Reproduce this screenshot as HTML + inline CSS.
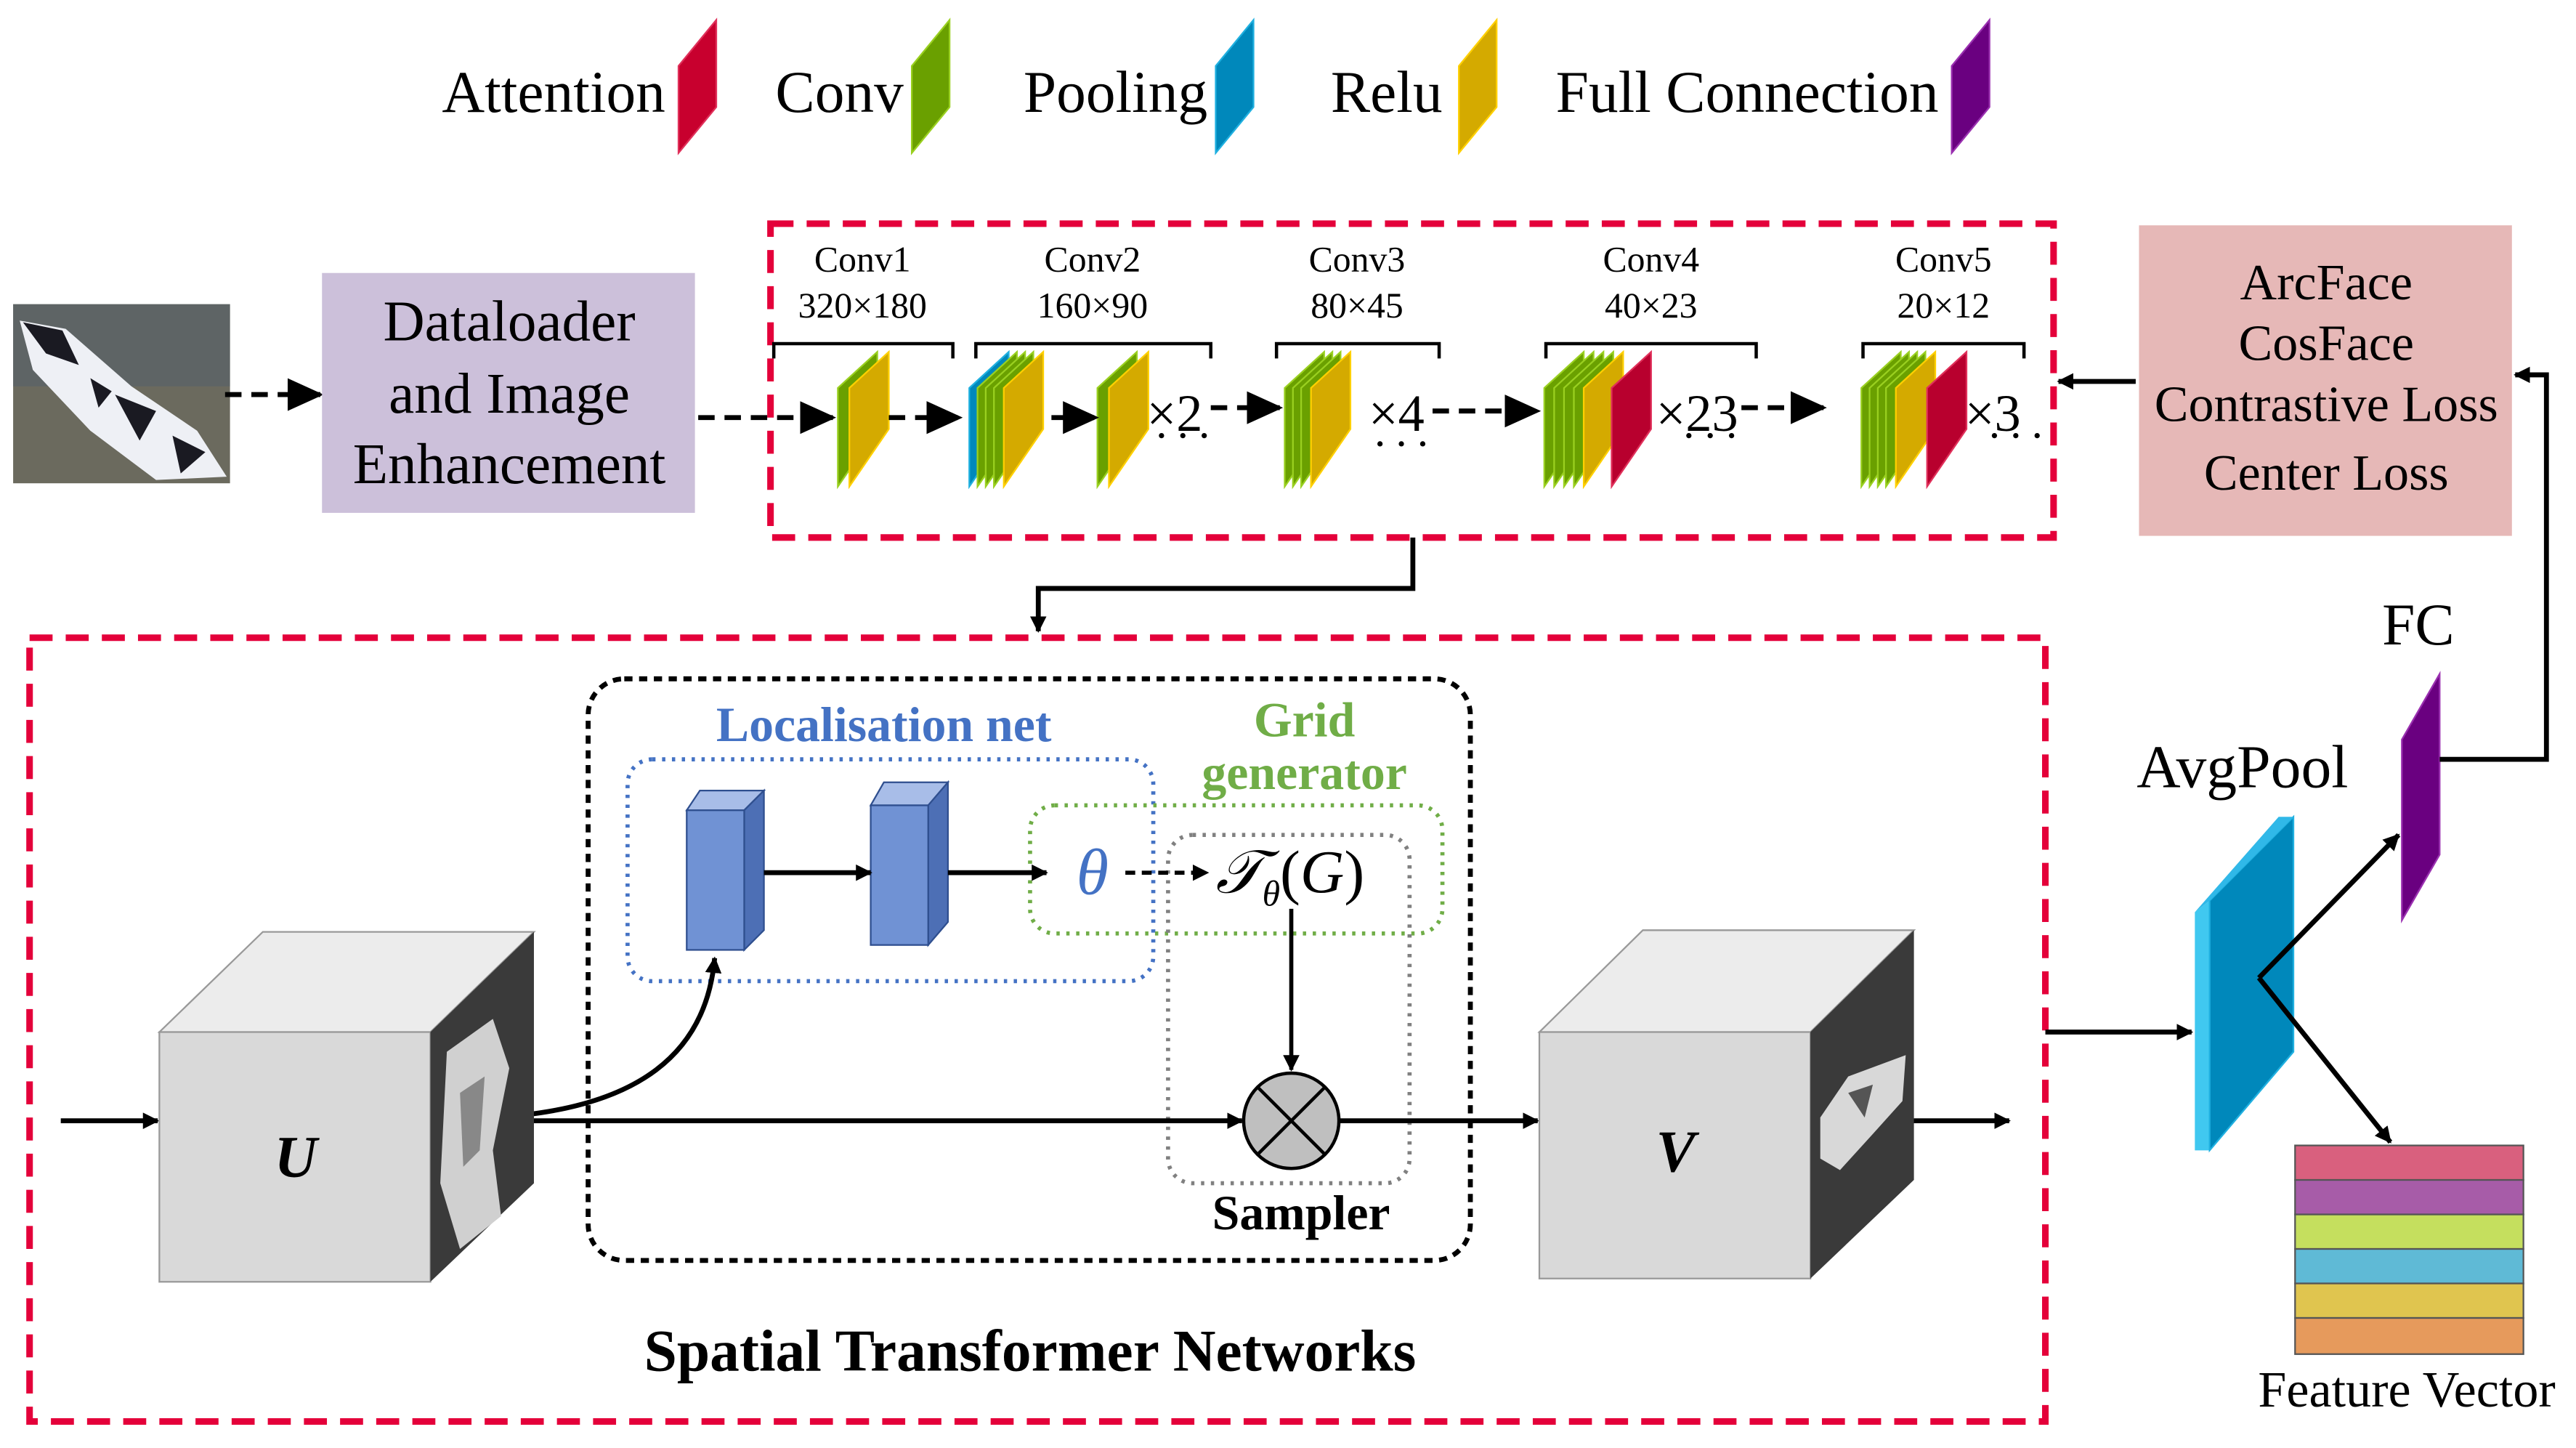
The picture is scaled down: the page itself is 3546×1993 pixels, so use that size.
<!DOCTYPE html>
<html><head><meta charset="utf-8"><style>
html,body{margin:0;padding:0;background:#fff;width:3546px;height:1993px;overflow:hidden}
svg{display:block}
text{font-family:"Liberation Serif",serif}
</style></head><body>
<svg width="3546" height="1993" viewBox="0 0 1568 881" xmlns="http://www.w3.org/2000/svg">
<defs>
<polygon id="sl" points="0,0 0,60 24,25 24,-22"/>
<polygon id="lg" points="0,28 0,81 23,53 23,0"/>
<marker id="ah" markerWidth="10" markerHeight="10" refX="9" refY="5" orient="auto" markerUnits="userSpaceOnUse"><path d="M0,0 L10,5 L0,10 z" fill="#000"/></marker>
<marker id="ab" markerWidth="22" markerHeight="20" refX="20" refY="10" orient="auto" markerUnits="userSpaceOnUse"><path d="M0,0 L22,10 L0,20 z" fill="#000"/></marker>
</defs>

<!-- legend -->
<g font-size="36" text-anchor="end">
<text x="405" y="68">Attention</text>
<text x="550" y="68">Conv</text>
<text x="735" y="68">Pooling</text>
<text x="878" y="68">Relu</text>
<text x="1180" y="68">Full Connection</text>
</g>
<use href="#lg" x="413" y="12" fill="#c8002e" stroke="#e0305a"/>
<use href="#lg" x="555" y="12" fill="#6aa000" stroke="#9ad020"/>
<use href="#lg" x="740" y="12" fill="#0088bb" stroke="#20b0e0"/>
<use href="#lg" x="888" y="12" fill="#d4aa00" stroke="#ffd000"/>
<use href="#lg" x="1188" y="12" fill="#6a0080" stroke="#9a30b0"/>

<!-- input image -->
<rect x="8" y="185" width="132" height="109" fill="#6b6a5e"/>
<rect x="8" y="185" width="132" height="50" fill="#55606a" opacity="0.6"/>
<path d="M12,195 L40,200 L80,235 L120,262 L138,290 L95,292 L55,262 L20,225 Z" fill="#eef0f5"/>
<path d="M14,196 L38,201 L48,222 L28,215 Z M70,240 L95,250 L85,268 Z M105,265 L125,275 L110,288 Z M55,230 L68,238 L60,248 Z" fill="#1a1a22"/>
<line x1="137" y1="240" x2="195" y2="240" stroke="#000" stroke-width="3" stroke-dasharray="10,6" marker-end="url(#ab)"/>

<!-- dataloader -->
<rect x="196" y="166" width="227" height="146" fill="#ccc0da"/>
<g font-size="35" text-anchor="middle">
<text x="310" y="207">Dataloader</text>
<text x="310" y="251">and Image</text>
<text x="310" y="294">Enhancement</text>
</g>

<!-- top red box -->
<rect x="469" y="136" width="781" height="191" fill="none" stroke="#e4003a" stroke-width="4" stroke-dasharray="14,8"/>
<g font-size="22" text-anchor="middle">
<text x="525" y="165">Conv1</text><text x="525" y="193">320×180</text>
<text x="665" y="165">Conv2</text><text x="665" y="193">160×90</text>
<text x="826" y="165">Conv3</text><text x="826" y="193">80×45</text>
<text x="1005" y="165">Conv4</text><text x="1005" y="193">40×23</text>
<text x="1183" y="165">Conv5</text><text x="1183" y="193">20×12</text>
</g>
<g stroke="#000" stroke-width="2" fill="none">
<path d="M471,218 V209 H580 V218"/>
<path d="M594,218 V209 H737 V218"/>
<path d="M777,218 V209 H876 V218"/>
<path d="M941,218 V209 H1069 V218"/>
<path d="M1134,218 V209 H1232 V218"/>
</g>
<g stroke-width="1">
<use href="#sl" x="510" y="236" fill="#6aa000" stroke="#9ad020"/>
<use href="#sl" x="517" y="236" fill="#d4aa00" stroke="#ffd000"/>

<use href="#sl" x="590" y="236" fill="#0088bb" stroke="#20b0e0"/>
<use href="#sl" x="595" y="236" fill="#6aa000" stroke="#9ad020"/>
<use href="#sl" x="600" y="236" fill="#6aa000" stroke="#9ad020"/>
<use href="#sl" x="605" y="236" fill="#6aa000" stroke="#9ad020"/>
<use href="#sl" x="611" y="236" fill="#d4aa00" stroke="#ffd000"/>
<use href="#sl" x="668" y="236" fill="#6aa000" stroke="#9ad020"/>
<use href="#sl" x="675" y="236" fill="#d4aa00" stroke="#ffd000"/>

<use href="#sl" x="782" y="236" fill="#6aa000" stroke="#9ad020"/>
<use href="#sl" x="787" y="236" fill="#6aa000" stroke="#9ad020"/>
<use href="#sl" x="792" y="236" fill="#6aa000" stroke="#9ad020"/>
<use href="#sl" x="798" y="236" fill="#d4aa00" stroke="#ffd000"/>

<use href="#sl" x="940" y="236" fill="#6aa000" stroke="#9ad020"/>
<use href="#sl" x="946" y="236" fill="#6aa000" stroke="#9ad020"/>
<use href="#sl" x="952" y="236" fill="#6aa000" stroke="#9ad020"/>
<use href="#sl" x="958" y="236" fill="#6aa000" stroke="#9ad020"/>
<use href="#sl" x="964" y="236" fill="#d4aa00" stroke="#ffd000"/>
<use href="#sl" x="981" y="236" fill="#b8002e" stroke="#e0305a"/>

<use href="#sl" x="1133" y="236" fill="#6aa000" stroke="#9ad020"/>
<use href="#sl" x="1138" y="236" fill="#6aa000" stroke="#9ad020"/>
<use href="#sl" x="1143" y="236" fill="#6aa000" stroke="#9ad020"/>
<use href="#sl" x="1148" y="236" fill="#6aa000" stroke="#9ad020"/>
<use href="#sl" x="1154" y="236" fill="#d4aa00" stroke="#ffd000"/>
<use href="#sl" x="1173" y="236" fill="#b8002e" stroke="#e0305a"/>
</g>
<g font-size="32">
<text x="698" y="262">×2</text>
<text x="833" y="262">×4</text>
<text x="1008" y="262">×23</text>
<text x="1196" y="262">×3</text>
</g>
<g fill="#000">
<circle cx="707" cy="265" r="1.6"/><circle cx="720" cy="265" r="1.6"/><circle cx="733" cy="265" r="1.6"/>
<circle cx="840" cy="270" r="1.6"/><circle cx="853" cy="270" r="1.6"/><circle cx="866" cy="270" r="1.6"/>
<circle cx="1028" cy="265" r="1.6"/><circle cx="1041" cy="265" r="1.6"/><circle cx="1054" cy="265" r="1.6"/>
<circle cx="1214" cy="265" r="1.6"/><circle cx="1227" cy="265" r="1.6"/><circle cx="1240" cy="265" r="1.6"/>
</g>
<g stroke="#000" stroke-width="3" stroke-dasharray="10,6" fill="none">
<line x1="425" y1="254" x2="507" y2="254" marker-end="url(#ab)"/>
<line x1="541" y1="254" x2="584" y2="254" marker-end="url(#ab)"/>
<line x1="640" y1="254" x2="667" y2="254" marker-end="url(#ab)"/>
<line x1="737" y1="248" x2="779" y2="248" marker-end="url(#ab)"/>
<line x1="872" y1="250" x2="936" y2="250" marker-end="url(#ab)"/>
<line x1="1060" y1="248" x2="1110" y2="248" marker-end="url(#ab)"/>
</g>
<line x1="1300" y1="232" x2="1253" y2="232" stroke="#000" stroke-width="3" marker-end="url(#ah)"/>

<!-- loss box -->
<rect x="1302" y="137" width="227" height="189" fill="#e6b8b7"/>
<g font-size="31" text-anchor="middle">
<text x="1416" y="182">ArcFace</text>
<text x="1416" y="219">CosFace</text>
<text x="1416" y="256">Contrastive Loss</text>
<text x="1416" y="298">Center Loss</text>
</g>

<!-- connector down -->
<path d="M860,327 V358 H632 V384" fill="none" stroke="#000" stroke-width="3" marker-end="url(#ah)"/>

<!-- big red box -->
<rect x="18" y="388" width="1227" height="477" fill="none" stroke="#e4003a" stroke-width="4" stroke-dasharray="14,8"/>

<!-- STN inner boxes -->
<rect x="358" y="413" width="537" height="354" rx="22" fill="none" stroke="#000" stroke-width="3" stroke-dasharray="5,4"/>
<rect x="382" y="462" width="320" height="135" rx="15" fill="none" stroke="#4472c4" stroke-width="2.5" stroke-dasharray="2,4"/>
<rect x="627" y="490" width="251" height="78" rx="15" fill="none" stroke="#70ad47" stroke-width="2.5" stroke-dasharray="2,4"/>
<rect x="711" y="508" width="147" height="212" rx="15" fill="none" stroke="#808080" stroke-width="2.5" stroke-dasharray="2,4"/>
<text x="538" y="451" font-size="30" font-weight="bold" fill="#4472c4" text-anchor="middle">Localisation net</text>
<text x="794" y="448" font-size="30" font-weight="bold" fill="#70ad47" text-anchor="middle">Grid</text>
<text x="794" y="480" font-size="30" font-weight="bold" fill="#70ad47" text-anchor="middle">generator</text>
<text x="792" y="748" font-size="30" font-weight="bold" text-anchor="middle">Sampler</text>

<!-- blue blocks -->
<g stroke="#2f4f8f" stroke-width="1">
<polygon points="418,493 426,481 465,481 453,493" fill="#a8bde8"/>
<polygon points="453,493 465,481 465,566 453,578" fill="#4d6fb5"/>
<rect x="418" y="493" width="35" height="85" fill="#7092d4"/>
<polygon points="530,490 538,476 577,476 565,490" fill="#a8bde8"/>
<polygon points="565,490 577,476 577,561 565,575" fill="#4d6fb5"/>
<rect x="530" y="490" width="35" height="85" fill="#7092d4"/>
</g>
<line x1="465" y1="531" x2="530" y2="531" stroke="#000" stroke-width="3" marker-end="url(#ah)"/>
<line x1="577" y1="531" x2="637" y2="531" stroke="#000" stroke-width="3" marker-end="url(#ah)"/>
<text x="665" y="544" font-size="40" font-style="italic" fill="#4472c4" text-anchor="middle">θ</text>
<line x1="685" y1="531" x2="735" y2="531" stroke="#000" stroke-width="2.5" stroke-dasharray="6,4" marker-end="url(#ah)"/>
<text x="740" y="543" font-size="37" font-style="italic">𝒯<tspan font-size="22" dy="8">θ</tspan><tspan dy="-8" font-style="normal">(</tspan>G<tspan font-style="normal">)</tspan></text>
<line x1="786" y1="553" x2="786" y2="651" stroke="#000" stroke-width="2.5" marker-end="url(#ah)"/>
<circle cx="786" cy="682" r="29" fill="#bfbfbf" stroke="#000" stroke-width="2"/>
<path d="M766,662 L806,702 M806,662 L766,702" stroke="#000" stroke-width="2"/>

<!-- main flow -->
<line x1="37" y1="682" x2="96" y2="682" stroke="#000" stroke-width="3" marker-end="url(#ah)"/>
<line x1="300" y1="682" x2="756" y2="682" stroke="#000" stroke-width="3" marker-end="url(#ah)"/>
<line x1="815" y1="682" x2="936" y2="682" stroke="#000" stroke-width="3" marker-end="url(#ah)"/>
<line x1="1160" y1="682" x2="1223" y2="682" stroke="#000" stroke-width="3" marker-end="url(#ah)"/>
<path d="M300,680 C390,675 430,640 435,583" fill="none" stroke="#000" stroke-width="3" marker-end="url(#ah)"/>

<!-- cube U -->
<polygon points="97,628 160,567 325,567 262,628" fill="#ececec" stroke="#999"/>
<rect x="97" y="628" width="165" height="152" fill="#d9d9d9" stroke="#999"/>
<polygon points="262,628 325,567 325,720 262,780" fill="#3a3a3a"/>
<path d="M272,640 L300,620 L310,650 L300,700 L305,740 L280,760 L268,720 Z" fill="#d0d0d0"/>
<path d="M280,665 L295,655 L292,700 L282,710 Z" fill="#888"/>
<text x="180" y="716" font-size="36" font-weight="bold" font-style="italic" text-anchor="middle">U</text>
<!-- cube V -->
<polygon points="937,628 1000,566 1165,566 1102,628" fill="#ececec" stroke="#999"/>
<rect x="937" y="628" width="165" height="150" fill="#d9d9d9" stroke="#999"/>
<polygon points="1102,628 1165,566 1165,718 1102,778" fill="#3a3a3a"/>
<path d="M1108,680 L1125,655 L1160,642 L1158,670 L1140,690 L1120,712 L1108,705 Z" fill="#d8d8d8"/>
<path d="M1125,665 L1140,660 L1135,680 Z" fill="#555"/>
<text x="1020" y="713" font-size="36" font-weight="bold" font-style="italic" text-anchor="middle">V</text>

<text x="627" y="834" font-size="36" font-weight="bold" text-anchor="middle">Spatial Transformer Networks</text>

<!-- right part -->
<line x1="1245" y1="628" x2="1334" y2="628" stroke="#000" stroke-width="3" marker-end="url(#ah)"/>
<polygon points="1336,555 1345,548 1345,700 1336,700" fill="#40c8f0"/>
<polygon points="1345,548 1396,497 1396,640 1345,700" fill="#0088bb" stroke="#20b0e0"/>
<polygon points="1336,555 1387,497 1396,497 1345,548" fill="#30b8e8"/>
<text x="1365" y="479" font-size="37" text-anchor="middle">AvgPool</text>
<polygon points="1462,450 1485,410 1485,520 1462,560" fill="#6a0080" stroke="#9a30b0"/>
<text x="1472" y="392" font-size="36" text-anchor="middle">FC</text>
<path d="M1375,595 L1460,508" stroke="#000" stroke-width="3" fill="none" marker-end="url(#ah)"/>
<path d="M1375,595 L1455,695" stroke="#000" stroke-width="3" fill="none" marker-end="url(#ah)"/>
<path d="M1485,462 H1550 V228 H1531" stroke="#000" stroke-width="3" fill="none" marker-end="url(#ah)"/>
<g stroke="#555" stroke-width="1">
<rect x="1397" y="697" width="139" height="21" fill="#d9607e"/>
<rect x="1397" y="718" width="139" height="21" fill="#a75ca8"/>
<rect x="1397" y="739" width="139" height="21" fill="#c5df5e"/>
<rect x="1397" y="760" width="139" height="21" fill="#5fbad6"/>
<rect x="1397" y="781" width="139" height="21" fill="#e0c54f"/>
<rect x="1397" y="802" width="139" height="22" fill="#e69a5c"/>
</g>
<text x="1465" y="856" font-size="31" text-anchor="middle">Feature Vector</text>
</svg>
</body></html>
